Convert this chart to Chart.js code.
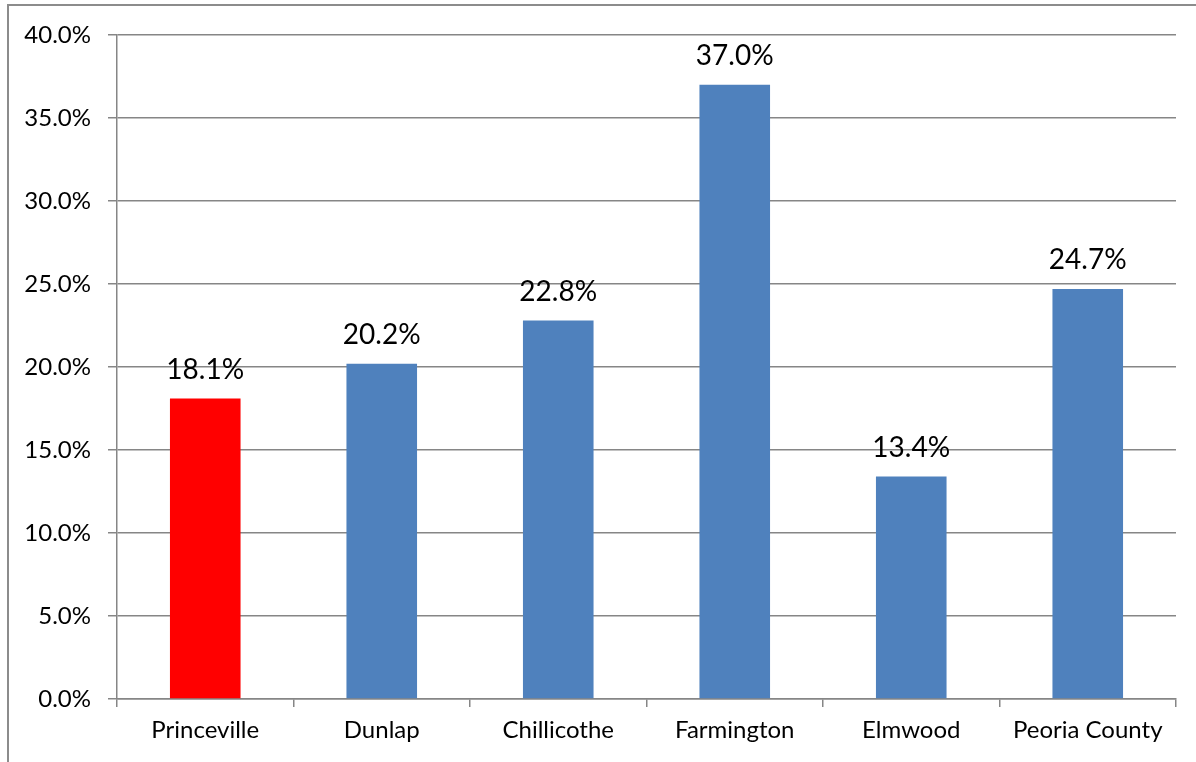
<!DOCTYPE html>
<html>
<head>
<meta charset="utf-8">
<script src="https://cdn.jsdelivr.net/npm/chart.js@4/dist/chart.umd.min.js"></script>
<style>
  html, body { margin: 0; padding: 0; background: #fff; }
  #wrap { width: 1196px; height: 762px; }
</style>
</head>
<body>
<div id="wrap"><canvas id="chart"></canvas></div>
<script>
const places = ['Princeville', 'Dunlap', 'Chillicothe', 'Farmington', 'Elmwood', 'Peoria County'];
const shares = [18.1, 20.2, 22.8, 37.0, 13.4, 24.7];
const barColors = ['#ff0000', '#4f81bd', '#4f81bd', '#4f81bd', '#4f81bd', '#4f81bd'];

const FONT = 'Lato, "Open Sans", sans-serif';
const GRID = '#868686';

// grey frame along the top and left edges
const frame = {
  id: 'frame',
  beforeDraw(chart) {
    const ctx = chart.ctx;
    ctx.save();
    ctx.strokeStyle = '#8c8c8c';
    ctx.lineWidth = 2;
    ctx.beginPath();
    ctx.moveTo(8, chart.height);
    ctx.lineTo(8, 5);
    ctx.lineTo(chart.width, 5);
    ctx.stroke();
    ctx.restore();
  }
};

// percentage printed above each bar
const valueLabels = {
  id: 'valueLabels',
  afterDatasetsDraw(chart) {
    const ctx = chart.ctx;
    const meta = chart.getDatasetMeta(0);
    ctx.save();
    ctx.fillStyle = '#000';
    ctx.font = '28px ' + FONT;
    ctx.textAlign = 'center';
    ctx.textBaseline = 'alphabetic';
    meta.data.forEach((bar, i) => {
      ctx.fillText(shares[i].toFixed(1) + '%', bar.x, bar.y - 20);
    });
    ctx.restore();
  }
};

new Chart(document.getElementById('chart'), {
  type: 'bar',
  data: {
    labels: places,
    datasets: [{
      data: shares,
      backgroundColor: barColors,
      borderWidth: 0,
      categoryPercentage: 1,
      barPercentage: 0.4
    }]
  },
  options: {
    responsive: true,
    maintainAspectRatio: false,
    animation: false,
    layout: { padding: { left: 0, top: 35, right: 20, bottom: 0 } },
    plugins: {
      legend: { display: false },
      tooltip: { enabled: false }
    },
    scales: {
      x: {
        grid: {
          offset: true,
          drawOnChartArea: false,
          drawTicks: true,
          tickLength: 8,
          color: GRID,
          lineWidth: 1.5
        },
        border: { color: GRID, width: 1.5 },
        ticks: { color: '#000', font: { family: FONT, size: 24 }, padding: 9, maxRotation: 0 },
        afterFit(scale) { scale.height = 63; }
      },
      y: {
        min: 0,
        max: 40,
        grid: { color: GRID, lineWidth: 1.5, tickLength: 9 },
        border: { color: GRID, width: 1.5 },
        ticks: {
          stepSize: 5,
          color: '#000',
          font: { family: FONT, size: 24 },
          padding: 17,
          callback: v => v.toFixed(1) + '%'
        },
        afterFit(scale) { scale.width = 117; }
      }
    }
  },
  plugins: [frame, valueLabels]
});
</script>
</body>
</html>
